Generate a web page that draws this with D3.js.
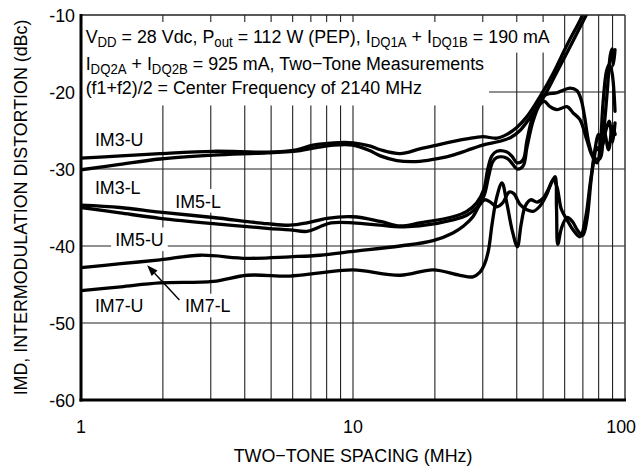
<!DOCTYPE html>
<html><head><meta charset="utf-8">
<script src="https://cdn.jsdelivr.net/npm/d3@7"></script>
<style>
body{margin:0;background:#fff}
svg{display:block}
text{font-family:"Liberation Sans",Arial,Helvetica,sans-serif;fill:#000}
</style>
</head><body>
<svg id="c" width="637" height="468"></svg>
<script>
// ---- data ----
const xTickLabels=[1,10,100];
const yTickLabels=[-10,-20,-30,-40,-50,-60];
const xGrid=[2,3,4,5,6,7,8,9,10,20,30,40,50,60,70,80,90];
const yGrid=[-20,-30,-40,-50];

const im3U=[[1,-28.6],[1.4,-28.3],[1.95,-28.0],[3.06,-27.7],[4.83,-27.8],[6.2,-27.5],[7.13,-26.9],[8.5,-26.6],[10,-26.6],[11.5,-27.0],[12.6,-27.5],[14.9,-28.0],[17.6,-27.4],[20.9,-26.8],[26.2,-26.1],[30,-25.8],[33.8,-26.0],[36.8,-25.5],[40,-24.6],[43.6,-23.2],[48.7,-20.6],[54.4,-17.6],[61.2,-13.9],[68.3,-10.7],[72,-9.0]];
const im3L=[[1,-30.1],[1.39,-29.4],[1.95,-28.7],[3.06,-28.2],[4.83,-27.9],[6.4,-27.6],[7.13,-27.3],[8.5,-26.9],[10,-26.9],[11.5,-27.6],[12.6,-28.3],[14.5,-28.9],[17.6,-29.0],[20.9,-28.6],[23.3,-28.2],[26.2,-27.6],[30,-26.9],[34.7,-26.4],[38,-25.9],[41.1,-25.0],[45,-23.2],[50,-20.8],[56,-17.5],[62,-14.5],[69,-11.3],[75,-8.8]];
const im5L=[[1,-34.7],[1.39,-35.0],[1.95,-35.6],[3.06,-36.3],[4.83,-37.1],[5.86,-37.3],[6.77,-37.0],[8.02,-36.4],[10,-36.2],[12.6,-36.8],[14.9,-37.4],[17.6,-37.0],[23.3,-36.2],[26.2,-35.5],[28.5,-34.4],[30.3,-32.6],[31.3,-30.0],[32.4,-28.3],[33.8,-27.7],[36.8,-27.8],[38.5,-28.4],[40.1,-29.2],[42.2,-28.8],[43.6,-26.3],[45.9,-23.0],[48.7,-20.9],[51.7,-20.3],[56.2,-20.1],[62.8,-19.5],[66.5,-19.8],[69,-21],[71,-23.2],[73.5,-26.5],[76.5,-28.6],[79,-29.2],[81,-27.2],[83,-21.5],[85.5,-17.3],[87.5,-16.4],[89.6,-17.5],[91.9,-22.5]];
const im5U=[[1,-35.0],[1.39,-35.7],[1.95,-36.4],[3.06,-37.1],[4.83,-37.7],[5.86,-37.9],[6.77,-38.1],[7.56,-37.5],[8.3,-37.0],[10,-37.0],[12.6,-37.3],[14.9,-37.5],[17.6,-37.4],[23.3,-36.6],[26.2,-36.0],[28.5,-35.0],[30.3,-33.5],[31.5,-31.0],[32.6,-29.1],[33.8,-28.5],[36.8,-28.6],[38.5,-29.3],[40.1,-30.0],[42.2,-29.6],[43.6,-27.2],[45.9,-23.8],[48.7,-21.6],[50.5,-21.2],[53,-21.9],[56.2,-22.3],[61.2,-21.9],[64.4,-22.7],[68.3,-23.6],[72.5,-26.3],[76.3,-28.4],[80.5,-28.7],[83.5,-25],[86,-20],[88.3,-15.2],[89.6,-14.4],[90.6,-16.5],[91.9,-14.5]];
const im7L=[[1,-42.8],[1.4,-42.3],[1.95,-41.8],[2.74,-41.2],[4.08,-41.6],[5.86,-41.4],[7.56,-41.2],[10,-40.7],[14.9,-40.0],[19.7,-39.3],[23.3,-38.3],[25.5,-37.4],[27.6,-36.2],[29.3,-34.6],[30.5,-34.0],[32,-34.3],[33.8,-34.9],[35.5,-34.4],[37.5,-33.0],[39,-33.2],[41.1,-34.6],[43.6,-35.3],[45.9,-35.5],[48.7,-34.8],[51.7,-33.2],[54.4,-31.4],[56.2,-32.3],[58.3,-35.2],[61.2,-36.6],[64.4,-37.9],[68.3,-38.8],[71.5,-36.5],[74.4,-32.0],[76.3,-29.5],[78.9,-27.2],[81,-27.8],[84,-25.3],[87,-27.5],[90,-24.5],[92,-25.5]];
const im7U=[[1,-45.8],[1.4,-45.3],[1.95,-44.8],[3.06,-44.6],[4.08,-43.8],[5.86,-43.9],[7.56,-43.5],[10,-43.1],[14.9,-43.8],[19.7,-43.1],[24.7,-43.8],[27.6,-44.0],[29.3,-43.4],[30.5,-42.3],[31.5,-40.5],[32.5,-37.0],[33.8,-33.6],[35.3,-31.8],[36.8,-34.5],[38.5,-38.0],[40.2,-40.1],[41.5,-37.2],[43,-34.8],[45,-34.0],[47.5,-34.3],[50,-33.8],[52.5,-32.5],[55.3,-31.0],[56,-35],[56.6,-39.8],[58.5,-37.6],[61.2,-36.3],[64,-36.8],[67,-38.0],[70,-38.6],[72.5,-36.5],[75,-31.5],[77.5,-27.5],[80,-25.5],[82.5,-27],[85,-25],[87.5,-23.8],[90,-26.5],[91.9,-24.0]];
const seriesList=[im3U,im3L,im5L,im5U,im7L,im7U];

const curveLabels=[
  {t:"IM3-U",f:1.125,v:-27.0},
  {t:"IM3-L",f:1.125,v:-33.2},
  {t:"IM5-L",f:2.22,v:-35.0},
  {t:"IM5-U",f:1.335,v:-40.0},
  {t:"IM7-U",f:1.125,v:-48.6},
  {t:"IM7-L",f:2.41,v:-48.6}
];
const arrowFrom=[2.3,-47.0], arrowTo=[1.75,-42.5];

const noteLines=[
  [["V",0],["DD",1],[" = 28 Vdc, P",0],["out",1],[" = 112 W (PEP), I",0],["DQ1A",1],[" + I",0],["DQ1B",1],[" = 190 mA",0]],
  [["I",0],["DQ2A",1],[" + I",0],["DQ2B",1],[" = 925 mA, Two\u2212Tone Measurements",0]],
  [["(f1+f2)/2 = Center Frequency of 2140 MHz",0]]
];
const xTitle="TWO\u2212TONE SPACING (MHz)";
const yTitle="IMD, INTERMODULATION DISTORTION (dBc)";

// ---- layout ----
const L=81,R=625,T=15,B=400;
const FS=19, SX=0.94;
const svg=d3.select("#c");
const x=d3.scaleLog().domain([1,100]).range([L,R]);
const y=d3.scaleLinear().domain([-60,-10]).range([B,T]);

function txt(g,s,px,py,anchor,size,rot){
  const t=g.append("text")
    .attr("transform",`translate(${px},${py})`+(rot?` rotate(${rot})`:"")+` scale(${SX},1)`)
    .attr("text-anchor",anchor||"start").attr("font-size",size||FS).text(s);
  return t;
}

// grid
const grid=svg.append("g").attr("stroke","#222").attr("stroke-width",1.1);
grid.selectAll("line.v").data(xGrid).join("line").attr("class","v")
  .attr("x1",d=>x(d)).attr("x2",d=>x(d)).attr("y1",T).attr("y2",B);
grid.selectAll("line.h").data(yGrid).join("line").attr("class","h")
  .attr("x1",L).attr("x2",R).attr("y1",d=>y(d)).attr("y2",d=>y(d));

// white backgrounds + note text
const bgG=svg.append("g");
const noteG=svg.append("g");
const noteX=x(1.04);
const noteY=[y(-13.7),y(-17.1),y(-20.3)];
const noteBoxes=[];
noteLines.forEach((parts,i)=>{
  const t=noteG.append("text")
    .attr("transform",`translate(${noteX},${noteY[i]}) scale(${SX},1)`)
    .attr("font-size",FS);
  let sub=false;
  parts.forEach(([s,isSub])=>{
    const ts=t.append("tspan").text(s);
    if(isSub&&!sub){ts.attr("dy",4).attr("font-size",FS*0.74);sub=true;}
    else if(isSub){ts.attr("font-size",FS*0.74);}
    else if(!isSub&&sub){ts.attr("dy",-4);sub=false;}
  });
  const bb=t.node().getBBox();
  noteBoxes.push({x:noteX+bb.x*SX,y:noteY[i]+bb.y,w:bb.width*SX,h:bb.height});
});
{
  const b0=noteBoxes[0];
  bgG.append("rect").attr("x",b0.x-5).attr("y",T+7).attr("width",b0.w+10).attr("height",(b0.y+b0.h+2)-(T+7)).attr("fill","#fff");
  const w2=Math.max(noteBoxes[1].w,noteBoxes[2].w);
  const y2=b0.y+b0.h+1;
  bgG.append("rect").attr("x",b0.x-5).attr("y",y2).attr("width",w2+10).attr("height",(noteBoxes[2].y+noteBoxes[2].h+7)-y2).attr("fill","#fff");
}

// curve labels with white boxes
const labG=svg.append("g");
curveLabels.forEach(d=>{
  const px=x(d.f), py=y(d.v);
  const t=txt(labG,d.t,px,py,"start",FS);
  const bb=t.node().getBBox();
  bgG.append("rect").attr("x",px+bb.x*SX-4).attr("y",py+bb.y-1).attr("width",bb.width*SX+8).attr("height",bb.height+2).attr("fill","#fff");
});

// curves
svg.append("clipPath").attr("id","pc").append("rect").attr("x",L).attr("y",T).attr("width",R-L).attr("height",B-T);
const line=d3.line().x(d=>x(d[0])).y(d=>y(d[1])).curve(d3.curveCatmullRom.alpha(0.5));
svg.append("g").attr("clip-path","url(#pc)").selectAll("path").data(seriesList).join("path")
  .attr("d",line).attr("fill","none").attr("stroke","#000").attr("stroke-width",3.3)
  .attr("stroke-linejoin","round").attr("stroke-linecap","round");

// arrow
{
  const x1=x(arrowFrom[0]),y1=y(arrowFrom[1]),x2=x(arrowTo[0]),y2=y(arrowTo[1]);
  const ang=Math.atan2(y2-y1,x2-x1), len=11, hw=4;
  const bx=x2-len*Math.cos(ang), by=y2-len*Math.sin(ang);
  svg.append("line").attr("x1",x1).attr("y1",y1).attr("x2",bx).attr("y2",by).attr("stroke","#000").attr("stroke-width",1.4);
  const p=[[x2,y2],[bx+hw*Math.sin(ang),by-hw*Math.cos(ang)],[bx-hw*Math.sin(ang),by+hw*Math.cos(ang)]];
  svg.append("path").attr("d","M"+p.map(q=>q.join(",")).join("L")+"Z").attr("fill","#000");
}

// frame
const fr=svg.append("g");
fr.append("line").attr("x1",L).attr("x2",R).attr("y1",T).attr("y2",T).attr("stroke","#222").attr("stroke-width",1.6);
fr.append("line").attr("x1",R).attr("x2",R).attr("y1",T).attr("y2",B).attr("stroke","#444").attr("stroke-width",1.6);
fr.append("line").attr("x1",L).attr("x2",L).attr("y1",T-1).attr("y2",B+1.5).attr("stroke","#000").attr("stroke-width",3);
fr.append("line").attr("x1",L-1.5).attr("x2",R+1).attr("y1",B).attr("y2",B).attr("stroke","#000").attr("stroke-width",3);

// tick labels
const tg=svg.append("g");
yTickLabels.forEach(v=>txt(tg,(v<0?"-":"")+Math.abs(v),L-6,y(v)+7,"end",FS));
xTickLabels.forEach(v=>{
  const last=v===xTickLabels[xTickLabels.length-1];
  txt(tg,String(v),last?636:x(v),B+33,last?"end":"middle",FS);
});

// titles
txt(svg,xTitle,(L+R)/2,B+62,"middle",FS);
txt(svg,yTitle,27,(T+B)/2,"middle",FS,-90);
</script>
</body></html>
